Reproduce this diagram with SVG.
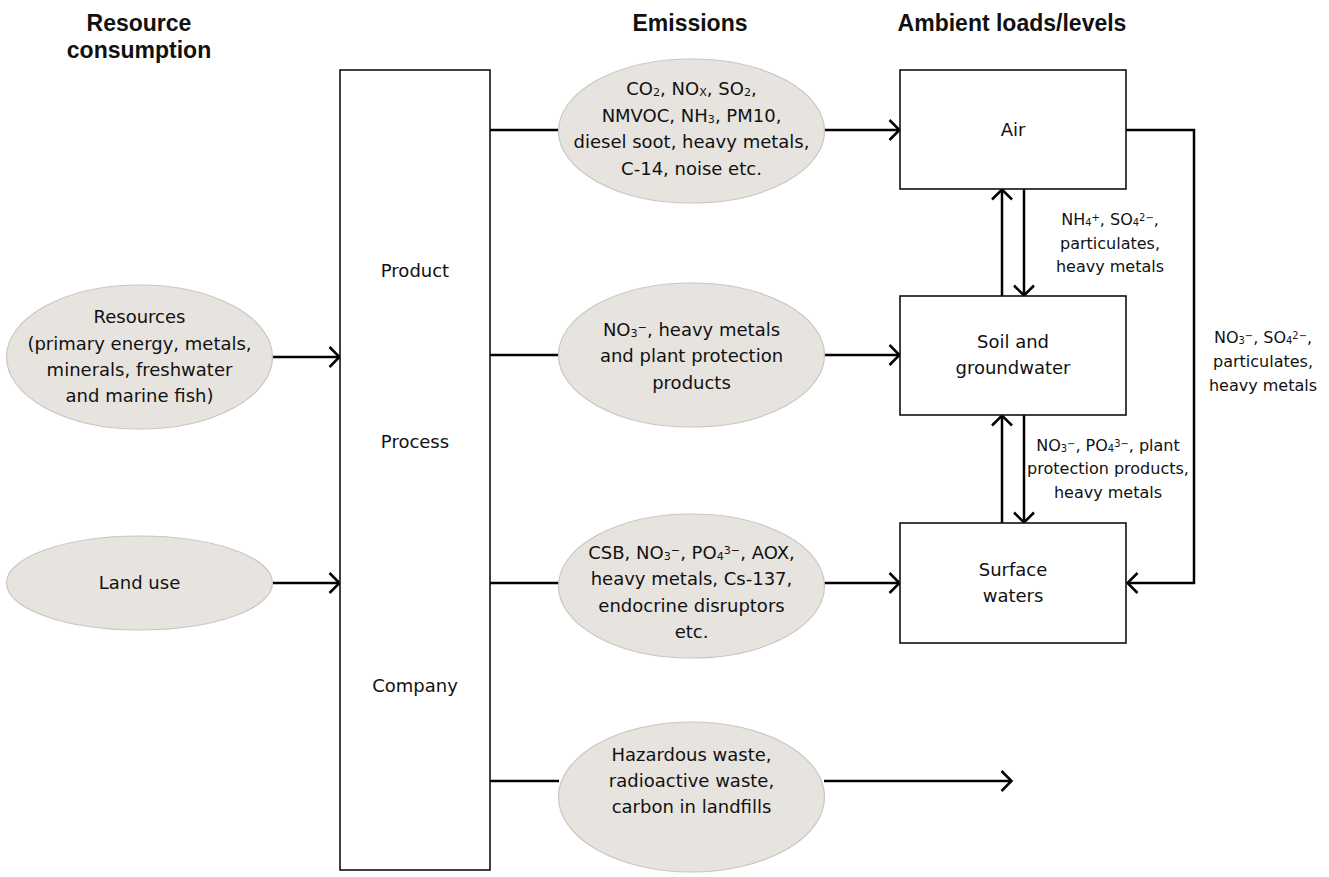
<svg xmlns="http://www.w3.org/2000/svg" width="1329" height="877" viewBox="0 0 1329 877">
  <style>
    text { font-family: "DejaVu Sans", "Liberation Sans", sans-serif; fill: #111; text-anchor: middle; }
    .hd { font-family: "Liberation Sans", Arial, sans-serif; font-size: 23px; font-weight: bold; }
    .lb { font-size: 18px; }
    .sm { font-size: 16px; }
    .box { fill: #fff; stroke: #111; stroke-width: 1.6; }
    .ell { fill: #e7e3df; stroke: #c9c5c1; stroke-width: 1.2; }
    .con { fill: none; stroke: #000; stroke-width: 2.5; }
    .arr { marker-end: url(#head); }
    .sb { font-size: 62%; baseline-shift: -12%; }
    .sp { font-size: 62%; baseline-shift: 45%; }
  </style>
  <defs>
    <marker id="head" markerUnits="userSpaceOnUse" viewBox="0 0 14 22" markerWidth="14" markerHeight="22" refX="12.5" refY="11" orient="auto">
      <path d="M2,1 L12,11 L2,21" fill="none" stroke="#000" stroke-width="2.5"/>
    </marker>
  </defs>

  <!-- column headers -->
  <g id="headers">
    <text class="hd" x="139" y="31">Resource</text>
    <text class="hd" x="139" y="58">consumption</text>
    <text class="hd" x="690" y="31">Emissions</text>
    <text class="hd" x="1012" y="31">Ambient loads/levels</text>
  </g>

  <!-- connectors -->
  <g id="connectors">
    <line class="con arr" x1="272" y1="357" x2="340" y2="357"/>
    <line class="con arr" x1="272" y1="583" x2="340" y2="583"/>
    <line class="con" x1="490" y1="130" x2="559" y2="130"/>
    <line class="con arr" x1="824" y1="130" x2="900" y2="130"/>
    <line class="con" x1="490" y1="355" x2="559" y2="355"/>
    <line class="con arr" x1="824" y1="355" x2="900" y2="355"/>
    <line class="con" x1="490" y1="583" x2="559" y2="583"/>
    <line class="con arr" x1="824" y1="583" x2="900" y2="583"/>
    <line class="con" x1="490" y1="781" x2="559" y2="781"/>
    <line class="con arr" x1="824" y1="781" x2="1012" y2="781"/>
    <!-- air <-> soil -->
    <line class="con arr" x1="1002" y1="296" x2="1002" y2="189"/>
    <line class="con arr" x1="1024" y1="189" x2="1024" y2="296"/>
    <!-- soil <-> surface waters -->
    <line class="con arr" x1="1002" y1="523" x2="1002" y2="415"/>
    <line class="con arr" x1="1024" y1="415" x2="1024" y2="523"/>
    <!-- air -> surface waters -->
    <polyline class="con arr" points="1126,130 1194,130 1194,583 1127,583"/>
  </g>

  <!-- connector labels -->
  <g id="flow-labels">
    <text class="sm" x="1110" y="225">NH<tspan class="sb">4</tspan><tspan class="sp">+</tspan>, SO<tspan class="sb">4</tspan><tspan class="sp">2−</tspan>,</text>
    <text class="sm" x="1110" y="249">particulates,</text>
    <text class="sm" x="1110" y="272">heavy metals</text>
    <text class="sm" x="1108" y="451">NO<tspan class="sb">3</tspan><tspan class="sp">−</tspan>, PO<tspan class="sb">4</tspan><tspan class="sp">3−</tspan>, plant</text>
    <text class="sm" x="1108" y="474">protection products,</text>
    <text class="sm" x="1108" y="498">heavy metals</text>
    <text class="sm" x="1263" y="343">NO<tspan class="sb">3</tspan><tspan class="sp">−</tspan>, SO<tspan class="sb">4</tspan><tspan class="sp">2−</tspan>,</text>
    <text class="sm" x="1263" y="367">particulates,</text>
    <text class="sm" x="1263" y="391">heavy metals</text>
  </g>

  <!-- resource inputs -->
  <g id="resources">
    <ellipse class="ell" cx="139.5" cy="357" rx="133" ry="72"/>
    <text class="lb" x="139.5" y="323">Resources</text>
    <text class="lb" x="139.5" y="350">(primary energy, metals,</text>
    <text class="lb" x="139.5" y="376">minerals, freshwater</text>
    <text class="lb" x="139.5" y="402">and marine fish)</text>
  </g>
  <g id="land-use">
    <ellipse class="ell" cx="139.5" cy="583" rx="133" ry="47"/>
    <text class="lb" x="139.5" y="589">Land use</text>
  </g>

  <!-- product / process / company -->
  <g id="product-process-company">
    <rect class="box" x="340" y="70" width="150" height="800"/>
    <text class="lb" x="415" y="277">Product</text>
    <text class="lb" x="415" y="448">Process</text>
    <text class="lb" x="415" y="692">Company</text>
  </g>

  <!-- emissions -->
  <g id="emissions-air">
    <ellipse class="ell" cx="691.5" cy="131" rx="133" ry="72"/>
    <text class="lb" x="691.5" y="95">CO<tspan class="sb">2</tspan>, NO<tspan class="sb">X</tspan>, SO<tspan class="sb">2</tspan>,</text>
    <text class="lb" x="691.5" y="122">NMVOC, NH<tspan class="sb">3</tspan>, PM10,</text>
    <text class="lb" x="691.5" y="148">diesel soot, heavy metals,</text>
    <text class="lb" x="691.5" y="175">C-14, noise etc.</text>
  </g>
  <g id="emissions-soil">
    <ellipse class="ell" cx="691.5" cy="355" rx="133" ry="72"/>
    <text class="lb" x="691.5" y="336">NO<tspan class="sb">3</tspan><tspan class="sp">−</tspan>, heavy metals</text>
    <text class="lb" x="691.5" y="362">and plant protection</text>
    <text class="lb" x="691.5" y="389">products</text>
  </g>
  <g id="emissions-water">
    <ellipse class="ell" cx="691.5" cy="586" rx="133" ry="72"/>
    <text class="lb" x="691.5" y="559">CSB, NO<tspan class="sb">3</tspan><tspan class="sp">−</tspan>, PO<tspan class="sb">4</tspan><tspan class="sp">3−</tspan>, AOX,</text>
    <text class="lb" x="691.5" y="585">heavy metals, Cs-137,</text>
    <text class="lb" x="691.5" y="612">endocrine disruptors</text>
    <text class="lb" x="691.5" y="638">etc.</text>
  </g>
  <g id="waste">
    <ellipse class="ell" cx="691.5" cy="797" rx="133" ry="75"/>
    <text class="lb" x="691.5" y="761">Hazardous waste,</text>
    <text class="lb" x="691.5" y="787">radioactive waste,</text>
    <text class="lb" x="691.5" y="813">carbon in landfills</text>
  </g>

  <!-- ambient compartments -->
  <g id="air">
    <rect class="box" x="900" y="70" width="226" height="119"/>
    <text class="lb" x="1013" y="136">Air</text>
  </g>
  <g id="soil">
    <rect class="box" x="900" y="296" width="226" height="119"/>
    <text class="lb" x="1013" y="348">Soil and</text>
    <text class="lb" x="1013" y="374">groundwater</text>
  </g>
  <g id="surface-waters">
    <rect class="box" x="900" y="523" width="226" height="120"/>
    <text class="lb" x="1013" y="576">Surface</text>
    <text class="lb" x="1013" y="602">waters</text>
  </g>
</svg>
